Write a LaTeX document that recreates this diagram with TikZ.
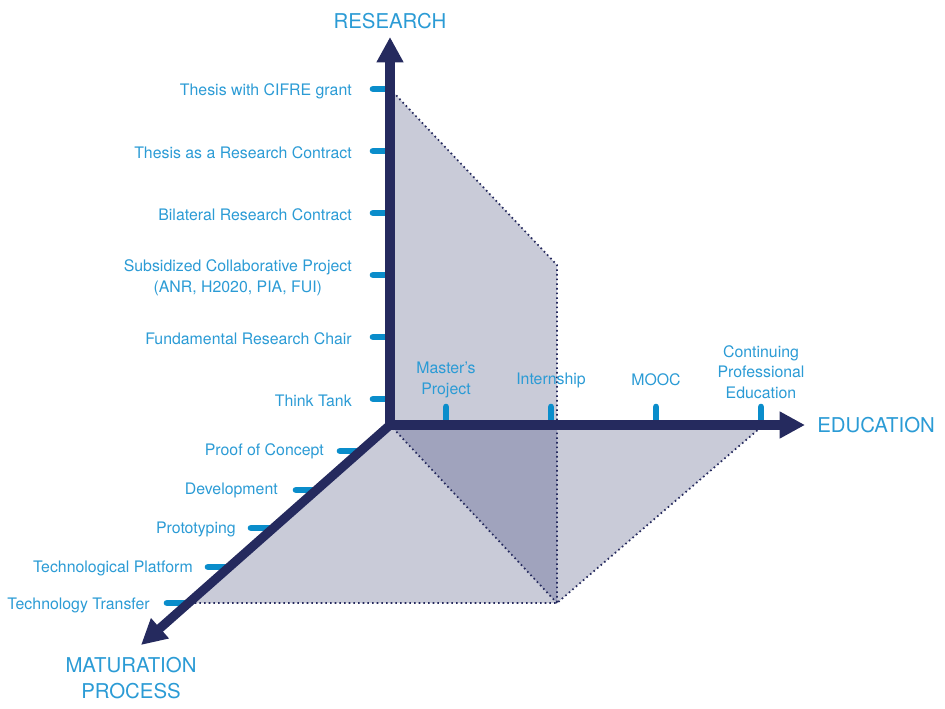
\documentclass[tikz,border=0pt]{standalone}
\usepackage{fontspec}
\setmainfont{TeX Gyre Heros}
\usetikzlibrary{arrows.meta}

\definecolor{navy}{HTML}{252A5E}
\definecolor{tickblue}{HTML}{0A8DCB}
\definecolor{labelblue}{HTML}{2B9BD5}
\definecolor{planelight}{HTML}{C9CBD8}
\definecolor{planedark}{HTML}{A0A3BD}

\tikzset{
  axis/.style={navy, line width=6.8pt, -{Triangle[length=19pt,width=19pt]}},
  tickmark/.style={tickblue, line width=5pt, line cap=round},
  edge/.style={navy, line width=1.3pt, dash pattern=on 1.2pt off 2.3pt},
  lbl/.style={labelblue, font=\fontsize{11.9}{15.5}\selectfont, inner sep=0pt, yshift=-1.5pt},
  biglbl/.style={labelblue, font=\fontsize{15.3}{19.5}\selectfont, inner sep=0pt, yshift=-1pt},
}

\begin{document}
\begin{tikzpicture}[x=0.75pt, y=-0.75pt]
\useasboundingbox (0,0) rectangle (945,709);

% corners of the planes
\coordinate (O) at (390,425);
\coordinate (rtop) at (393,92);
\coordinate (rmid) at (557,265);
\coordinate (efloor) at (557,428);
\coordinate (floor) at (557,603);
\coordinate (eend) at (760,428);
\coordinate (mend) at (190,603);

% planes
\fill[planelight] (rtop) -- (rmid) -- (557,425) -- (393,425) -- cycle;
\fill[planelight] (393,428) -- (eend) -- (floor) -- (mend) -- cycle;
\fill[planedark] (393,428) -- (efloor) -- (floor) -- cycle;

% dotted edges
\draw[edge] (rtop) -- (rmid) -- (floor);
\draw[edge] (O) -- (floor);
\draw[edge] (mend) -- (floor) -- (eend);

% ticks on research axis
\draw[tickmark] (373,89) -- (390,89);
\draw[tickmark] (373,151) -- (390,151);
\draw[tickmark] (373,213) -- (390,213);
\draw[tickmark] (373,275) -- (390,275);
\draw[tickmark] (373,337) -- (390,337);
\draw[tickmark] (373,399) -- (390,399);

% ticks on education axis
\draw[tickmark] (446,407) -- (446,425);
\draw[tickmark] (551,407) -- (551,425);
\draw[tickmark] (656,407) -- (656,425);
\draw[tickmark] (761,407) -- (761,425);

% ticks on maturation axis
\draw[tickmark] (340,451) -- (360,451);
\draw[tickmark] (296,490) -- (316,490);
\draw[tickmark] (251,528) -- (273,528);
\draw[tickmark] (208,567) -- (229,567);
\draw[tickmark] (167,603) -- (188,603);

% axes
\draw[axis] (390,429) -- (390,37) coordinate (rtip);
\draw[axis] (386,425) -- (805,425) coordinate (etip);
\draw[axis] (O) -- (141,645) coordinate (mtip);

% axis titles
\node[biglbl] (research) at (390,20) {RESEARCH};
\node[biglbl, anchor=west] (education) at (817,424) {EDUCATION};
\node[biglbl, align=center] (maturation) at (131,677) {MATURATION\\PROCESS};

% research labels
\node[lbl, anchor=east] (cifre) at (352,89) {Thesis with CIFRE grant};
\node[lbl, anchor=east] (contract) at (352,151) {Thesis as a Research Contract};
\node[lbl, anchor=east] (bilateral) at (352,213) {Bilateral Research Contract};
\node[lbl, anchor=east, align=center] (subsidized) at (352,276) {Subsidized Collaborative Project\\(ANR, H2020, PIA, FUI)};
\node[lbl, anchor=east] (chair) at (352,337) {Fundamental Research Chair};
\node[lbl, anchor=east] (tank) at (352,399) {Think Tank};

% education labels
\node[lbl, align=center] (master) at (446,378) {Master's\\Project};
\node[lbl] (internship) at (551,378) {Internship};
\node[lbl] (mooc) at (656,378) {MOOC};
\node[lbl, align=center] (continuing) at (761,370) {Continuing\\Professional\\Education};

% maturation labels
\node[lbl, anchor=east] (poc) at (324,449) {Proof of Concept};
\node[lbl, anchor=east] (dev) at (278,488) {Development};
\node[lbl, anchor=east] (proto) at (236,527) {Prototyping};
\node[lbl, anchor=east] (platform) at (193,566) {Technological Platform};
\node[lbl, anchor=east] (transfer) at (150,603) {Technology Transfer};
\end{tikzpicture}
\end{document}
